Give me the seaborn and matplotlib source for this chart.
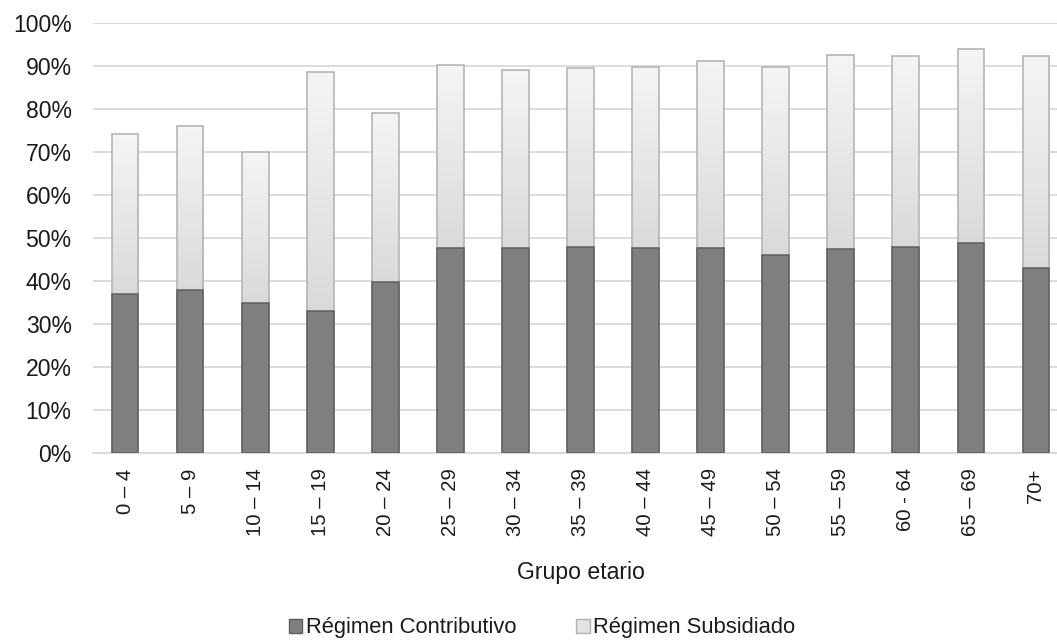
import numpy as np
import pandas as pd
import matplotlib
matplotlib.use("Agg")
import matplotlib.pyplot as plt
import seaborn as sns
from matplotlib.patches import Patch
from matplotlib.colors import LinearSegmentedColormap
from matplotlib.ticker import PercentFormatter

# Age groups and coverage shares (%) by health regime
grupos = ["0 – 4", "5 – 9", "10 – 14", "15 – 19", "20 – 24", "25 – 29", "30 – 34",
          "35 – 39", "40 – 44", "45 – 49", "50 – 54", "55 – 59", "60 - 64", "65 – 69", "70+"]
contributivo = [37.0, 37.9, 34.9, 33.0, 39.7, 47.7, 47.7, 47.9, 47.6, 47.6, 46.0, 47.4, 48.0, 48.8, 43.0]
subsidiado = [37.1, 38.2, 35.2, 55.7, 39.4, 42.5, 41.4, 41.7, 42.2, 43.5, 43.8, 45.1, 44.3, 45.2, 49.3]
y_ticks = list(range(0, 101, 10))

df = pd.DataFrame({"grupo": grupos, "contributivo": contributivo, "subsidiado": subsidiado})
df["total"] = df["contributivo"] + df["subsidiado"]

sns.set_theme(style="white")
plt.rcParams["font.family"] = ["Liberation Sans", "DejaVu Sans"]

W, H = 1057, 640
fig = plt.figure(figsize=(W / 100, H / 100), dpi=100)
ax = fig.add_axes([92.5 / W, 187 / H, 976 / W, 430 / H])

BAR_W = 0.41
DARK, DARK_EDGE = "#7f7f7f", "#5e5e5e"
LIGHT_EDGE = "#b0b0b0"
TXT = "#1a1a1a"

# upper segment: full stack height, lower segment drawn over it
sns.barplot(data=df, x="grupo", y="total", ax=ax, width=BAR_W, color="white",
            saturation=1, edgecolor=LIGHT_EDGE, linewidth=1.1)
n_light = len(ax.patches)
sns.barplot(data=df, x="grupo", y="contributivo", ax=ax, width=BAR_W, color=DARK,
            saturation=1, edgecolor=DARK_EDGE, linewidth=1.1)

light_patches = ax.patches[:n_light]
dark_patches = ax.patches[n_light:]
for p in light_patches:
    p.set_facecolor("none")
    p.set_zorder(2)
for p in dark_patches:
    p.set_zorder(3)

# vertical grey gradient on the subsidiado segment
cmap = LinearSegmentedColormap.from_list("sub", ["#dadada", "#f5f5f5"])
grad = np.linspace(0, 1, 256).reshape(-1, 1)
for p, c, t in zip(light_patches, df["contributivo"], df["total"]):
    x0 = p.get_x()
    x1 = x0 + p.get_width()
    ax.imshow(grad, extent=[x0, x1, c, t], origin="lower", aspect="auto",
              cmap=cmap, zorder=1.5, interpolation="bilinear")

ax.set_xlim(-0.5, len(grupos) - 0.5)
ax.set_ylim(0, 100)
ax.set_yticks(y_ticks)
ax.yaxis.set_major_formatter(PercentFormatter(decimals=0))
ax.yaxis.grid(True, color="#d9d9d9", linewidth=1.3)
ax.set_axisbelow(True)
for s in ["left", "right", "top"]:
    ax.spines[s].set_visible(False)
ax.spines["bottom"].set_color("#d9d9d9")
ax.spines["bottom"].set_linewidth(1.3)

ax.tick_params(axis="y", length=0, pad=15, labelsize=16.6, labelcolor=TXT)
ax.tick_params(axis="x", length=0, pad=11, labelsize=14.6, labelcolor=TXT)
plt.setp(ax.get_xticklabels(), rotation=90)

ax.set_ylabel("")
ax.set_xlabel("Grupo etario", fontsize=16.6, color=TXT)
ax.xaxis.set_label_coords(0.5, -0.252)

handles = [Patch(facecolor=DARK, edgecolor=DARK_EDGE, label="Régimen Contributivo"),
           Patch(facecolor="#e2e2e2", edgecolor=LIGHT_EDGE, label="Régimen Subsidiado")]
fig.legend(handles=handles, loc="center", bbox_to_anchor=(542 / W, 1 - 628 / H),
           ncol=2, frameon=False, fontsize=15.8, handlelength=0.6, handleheight=0.6,
           handletextpad=0.15, columnspacing=2.75, borderpad=0,
           labelcolor=TXT)

fig.savefig("out.png", dpi=100)
